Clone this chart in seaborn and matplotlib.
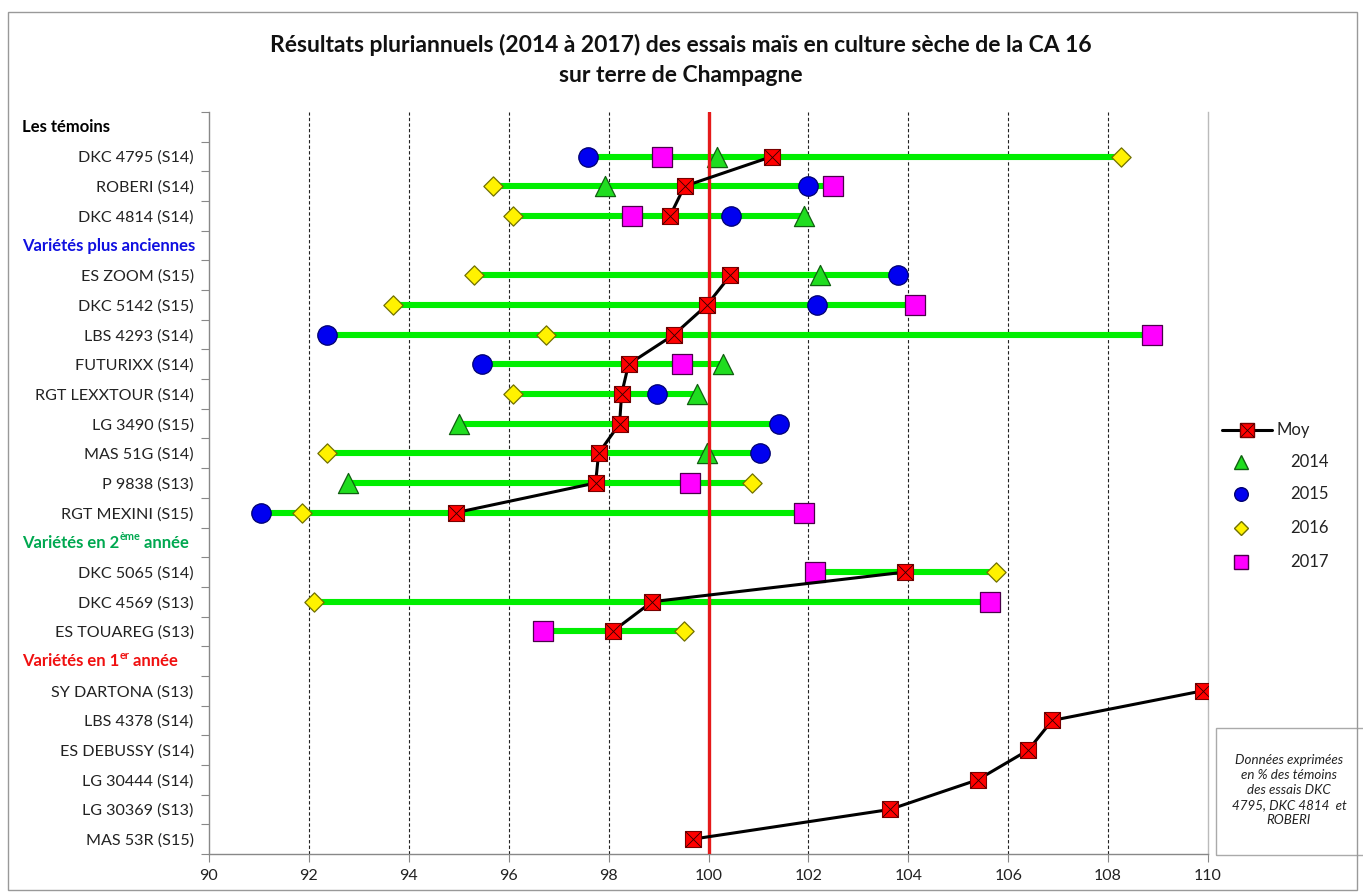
import numpy as np
import pandas as pd
import matplotlib
matplotlib.use("Agg")
import matplotlib.pyplot as plt
import matplotlib.transforms as mtransforms
from matplotlib.lines import Line2D
from matplotlib.patches import Rectangle
import seaborn as sns

nan = np.nan

# ---------------- data ----------------
row_labels = [
    "", "DKC 4795 (S14)", "ROBERI (S14)", "DKC 4814 (S14)",
    "", "ES ZOOM (S15)", "DKC 5142 (S15)", "LBS 4293 (S14)", "FUTURIXX (S14)",
    "RGT LEXXTOUR (S14)", "LG 3490 (S15)", "MAS 51G (S14)", "P 9838 (S13)",
    "RGT MEXINI (S15)",
    "", "DKC 5065 (S14)", "DKC 4569 (S13)", "ES TOUAREG (S13)",
    "", "SY DARTONA (S13)", "LBS 4378 (S14)", "ES DEBUSSY (S14)",
    "LG 30444 (S14)", "LG 30369 (S13)", "MAS 53R (S15)",
]
# section headers: row index -> (main text, superscript, rest, colour)
header_rows = [0, 4, 14, 18]
header_main = ["Les témoins", "Variétés plus anciennes", "Variétés en 2", "Variétés en 1"]
header_sup = ["", "", "ème", "er"]
header_rest = ["", "", " année", " année"]
header_colors = ["#000000", "#1010E0", "#00A850", "#F01010"]

v2014 = [nan, 100.17, 97.92, 101.91, nan, 102.23, nan, nan, 100.29, 99.76, 95.00,
         99.96, 92.78, nan, nan, nan, nan, nan, nan, nan, nan, nan, nan, nan, nan]
v2015 = [nan, 97.59, 101.99, 100.46, nan, 103.80, 102.18, 92.36, 95.46, 98.97, 101.42,
         101.04, nan, 91.04, nan, nan, nan, nan, nan, nan, nan, nan, nan, nan, nan]
v2016 = [nan, 108.25, 95.68, 96.08, nan, 95.31, 93.68, 96.75, nan, 96.08, nan,
         92.36, 100.87, 91.86, nan, 105.75, 92.11, 99.51, nan, nan, nan, nan, nan, nan, nan]
v2017 = [nan, 99.06, 102.49, 98.46, nan, nan, 104.13, 108.87, 99.47, nan, nan,
         nan, 99.62, 101.91, nan, 102.14, 105.63, 96.68, nan, nan, nan, nan, nan, nan, nan]
moy = [nan, 101.27, 99.52, 99.23, nan, 100.44, 99.97, 99.31, 98.40, 98.26, 98.22,
       97.80, 97.74, 94.94, nan, 103.94, 98.87, 98.08, nan, 109.90, 106.88, 106.40,
       105.39, 103.63, 99.68]

x_ticks = [90, 92, 94, 96, 98, 100, 102, 104, 106, 108, 110]
reference_value = 100
title_line1 = "Résultats pluriannuels (2014 à 2017) des essais maïs en culture sèche de la CA 16"
title_line2 = "sur terre de Champagne"
note_text = "Données exprimées\nen % des témoins\ndes essais DKC\n4795, DKC 4814  et\nROBERI"

years = ["2014", "2015", "2016", "2017"]
legend_labels = ["Moy"] + years

# ---------------- style ----------------
sns.set_theme(style="white")
plt.rcParams["font.family"] = ["Lato", "DejaVu Sans"]

W, H = 1363, 893
fig = plt.figure(figsize=(W / 100, H / 100), dpi=100)
ax = fig.add_axes([209 / W, 1 - 854 / H, (1208 - 209) / W, (854 - 112) / H])

pos = np.arange(len(row_labels))
df = pd.DataFrame({"pos": pos, "2014": v2014, "2015": v2015, "2016": v2016,
                   "2017": v2017, "moy": moy})
df["lo"] = df[years].min(axis=1)
df["hi"] = df[years].max(axis=1)

# vertical dashed grid (except at 100, covered by red line)
for t in x_ticks[1:-1]:
    if t != reference_value:
        ax.axvline(t, color="#222222", lw=0.8, ls=(0, (3, 2)), zorder=0.5)

# green range bars
rng = df.dropna(subset=["lo"])
ax.hlines(rng["pos"], rng["lo"], rng["hi"], color="#00EE00", lw=4.4, zorder=2)

styles = {
    "2014": dict(marker="^", color="#20DD20", edgecolor="#106010", s=14.5 ** 2),
    "2015": dict(marker="o", color="#0000F0", edgecolor="#000070", s=14 ** 2),
    "2016": dict(marker="D", color="#FFF200", edgecolor="#707000", s=9.8 ** 2),
    "2017": dict(marker="s", color="#FF00FF", edgecolor="#4A004A", s=13.8 ** 2),
}
for yr in years:
    sub = df.dropna(subset=[yr])
    st = styles[yr]
    sns.scatterplot(data=sub, x=yr, y="pos", marker=st["marker"], color=st["color"],
                    edgecolor=st["edgecolor"], s=st["s"], linewidth=0.9, zorder=4, ax=ax,
                    legend=False)

# red reference line
ax.axvline(reference_value, color="#E51A1A", lw=2.4, zorder=4.5)

# average line with gaps at headers
ax.plot(df["moy"], df["pos"], color="black", lw=2.2, zorder=5)
msub = df.dropna(subset=["moy"])
sns.scatterplot(data=msub, x="moy", y="pos", marker="s", color="#FF0000",
                edgecolor="#7A0000", s=12.0 ** 2, linewidth=0.8, zorder=6, ax=ax, legend=False)
sns.scatterplot(data=msub, x="moy", y="pos", marker="x", color="#300000",
                s=11.2 ** 2, linewidth=0.6, zorder=7, ax=ax, legend=False)

# axes
ax.set_xlim(90, 110)
ax.set_ylim(len(row_labels) - 0.5, -0.5)
ax.set_xlabel("")
ax.set_ylabel("")
ax.set_xticks(x_ticks)
ax.set_xticklabels([str(t) for t in x_ticks], fontsize=11.5, color="#222222")
ax.set_yticks(pos)
ax.set_yticklabels(row_labels, fontsize=11.6, color="#222222")
ax.set_yticks(np.arange(-0.5, len(row_labels), 1.0), minor=True)
ax.tick_params(axis="y", which="major", length=0, pad=11)
ax.tick_params(axis="y", which="minor", length=6, width=0.8, color="#888888", left=True)
ax.tick_params(axis="x", which="major", length=6, width=0.8, color="#888888", bottom=True,
               pad=5)
for side in ["left", "bottom"]:
    ax.spines[side].set_color("#888888")
    ax.spines[side].set_linewidth(1.0)
ax.spines["right"].set_color("#BBBBBB")
ax.spines["right"].set_linewidth(1.0)
ax.spines["top"].set_visible(False)
ax.grid(False)

# section headers
tr = mtransforms.blended_transform_factory(fig.transFigure, ax.transData)
for r, main, sup, rest, col in zip(header_rows, header_main, header_sup, header_rest,
                                   header_colors):
    t1 = ax.text(22 / W, r + 0.28, main, transform=tr, ha="left", va="bottom",
                 fontsize=12, fontweight="bold", color=col)
    if sup:
        t2 = ax.annotate(sup, xy=(1, 0.55), xycoords=t1, ha="left", va="bottom",
                         fontsize=7.8, fontweight="bold", color=col)
        ax.annotate(rest, xy=(1, 0), xycoords=(t2, t1), ha="left", va="bottom",
                    fontsize=12, fontweight="bold", color=col)

# title
fig.text(681 / W, 1 - 45 / H, title_line1, ha="center", va="center", fontsize=16.5,
         fontweight="bold", color="#111111")
fig.text(681 / W, 1 - 75 / H, title_line2, ha="center", va="center", fontsize=16.5,
         fontweight="bold", color="#111111")

# legend (drawn in figure pixel positions)
def fx(px):
    return px / W

def fy(py):
    return 1 - py / H

leg_y = [430, 462, 494, 528, 562]
fig.add_artist(Line2D([fx(1222), fx(1272)], [fy(leg_y[0])] * 2, color="black", lw=2.2,
                      transform=fig.transFigure))
fig.add_artist(Line2D([fx(1247)], [fy(leg_y[0])], ls="none", marker="s", markersize=10.5,
                      markerfacecolor="#FF0000", markeredgecolor="#7A0000",
                      transform=fig.transFigure))
fig.add_artist(Line2D([fx(1247)], [fy(leg_y[0])], ls="none", marker="x", markersize=9.8,
                      markeredgecolor="#300000", markeredgewidth=0.6,
                      transform=fig.transFigure))
fig.text(fx(1276), fy(leg_y[0]), legend_labels[0], ha="left", va="center", fontsize=12,
         color="#222222")
for yr, lab, yy in zip(years, legend_labels[1:], leg_y[1:]):
    st = styles[yr]
    ms = np.sqrt(st["s"]) * 0.7
    fig.add_artist(Line2D([fx(1241)], [fy(yy)], ls="none", marker=st["marker"],
                          markersize=ms, markerfacecolor=st["color"],
                          markeredgecolor=st["edgecolor"], transform=fig.transFigure))
    fig.text(fx(1290), fy(yy), lab, ha="left", va="center", fontsize=12, color="#222222")

# note box
fig.add_artist(Rectangle((1216 / W, 1 - 855 / H), 160 / W, 127 / H,
                         transform=fig.transFigure, fill=False, edgecolor="#AAAAAA",
                         lw=1.0, clip_on=True))
fig.text(1289 / W, 1 - 790 / H, note_text, ha="center", va="center", fontsize=9.6,
         style="italic", color="#222222", linespacing=1.3)

# outer border
fig.add_artist(Rectangle((8 / W, 1 - 890 / H), (1357 - 8) / W, (890 - 12) / H,
                         transform=fig.transFigure, fill=False, edgecolor="#999999",
                         lw=1.0))

fig.savefig("out.png", dpi=100)
